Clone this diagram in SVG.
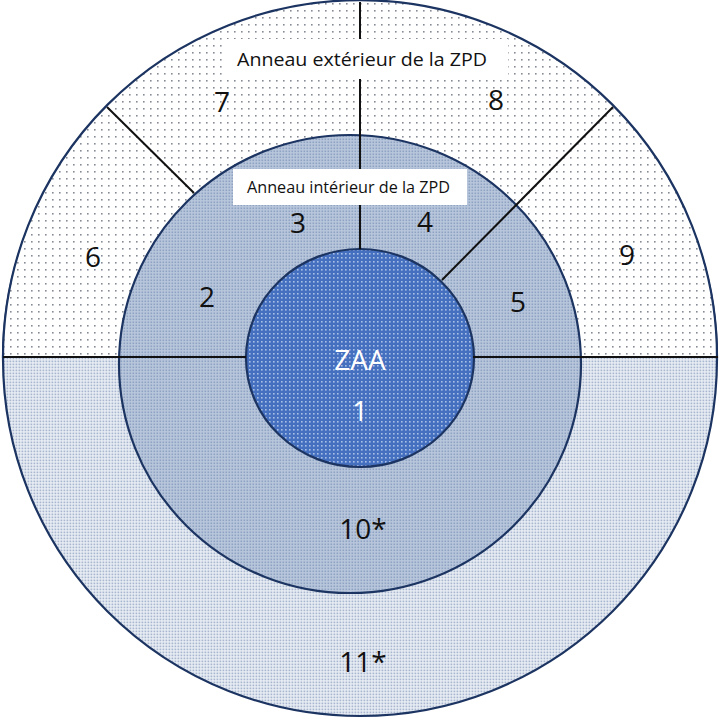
<svg xmlns="http://www.w3.org/2000/svg" width="721" height="721" viewBox="0 0 721 721">
<style>
.ring{stroke:#1c3461;stroke-width:2.2}
.div{stroke:#111;stroke-width:2;fill:none}
.num{font-family:"Open Sans","Liberation Sans",Arial,sans-serif;font-size:28px;fill:#111;text-anchor:middle}
.wnum{font-family:"Open Sans","Liberation Sans",Arial,sans-serif;font-size:28px;fill:#fff;text-anchor:middle}
.lbl{font-family:"Open Sans","Liberation Sans",Arial,sans-serif;fill:#111}
</style>
<defs>
<pattern id="pSparse" width="7" height="7" patternUnits="userSpaceOnUse">
<rect width="7" height="7" fill="#ffffff"/>
<rect x="3" y="3" width="1.6" height="1.6" fill="#868c96"/>
</pattern>
<pattern id="pLight" width="3" height="3" patternUnits="userSpaceOnUse">
<rect width="3" height="3" fill="#eef2f7"/>
<rect x="0.5" y="0.5" width="1.8" height="1.8" fill="#a8b7cf"/>
</pattern>
<pattern id="pMid" width="3" height="3" patternUnits="userSpaceOnUse">
<rect width="3" height="3" fill="#b9c7dc"/>
<rect x="0.5" y="0.5" width="1.6" height="1.6" fill="#8ea2c2"/>
</pattern>
<pattern id="pCore" width="4" height="4" patternUnits="userSpaceOnUse">
<rect width="4" height="4" fill="#4570c0"/>
<rect x="1" y="1" width="1.6" height="1.6" fill="#a9bfe6"/>
</pattern>
</defs>
<rect width="721" height="721" fill="#ffffff"/>
<g id="outer-ring">
<circle class="ring" cx="360" cy="359" r="357" fill="url(#pLight)"/>
<path class="ring" d="M3,357 A357,357 0 0 1 717,357 Z" fill="url(#pSparse)"/>
</g>
<g id="inner-ring">
<ellipse class="ring" cx="350" cy="364" rx="231" ry="229" fill="url(#pMid)"/>
</g>
<g id="zaa">
<ellipse class="ring" cx="360" cy="358" rx="114" ry="109" fill="url(#pCore)"/>
</g>
<g id="connectors">
<line class="div" x1="360" y1="2" x2="360" y2="249"/>
<line class="div" x1="107" y1="107" x2="194" y2="193"/>
<line class="div" x1="613" y1="107" x2="442" y2="280"/>
<line class="div" x1="3" y1="357" x2="246" y2="357"/>
<line class="div" x1="473" y1="357" x2="718" y2="357"/>
</g>
<g id="label-outer">
<rect x="224" y="39" width="284" height="40" fill="#ffffff"/>
<text class="lbl" x="237" y="66" font-size="18" textLength="250" lengthAdjust="spacingAndGlyphs">Anneau extérieur de la ZPD</text>
</g>
<g id="label-inner">
<rect x="233" y="169" width="234" height="36" fill="#ffffff"/>
<text class="lbl" x="247" y="193" font-size="15.5" textLength="203" lengthAdjust="spacingAndGlyphs">Anneau intérieur de la ZPD</text>
</g>
<g id="seg-numbers">
<text class="num" x="222" y="112">7</text>
<text class="num" x="496" y="110">8</text>
<text class="num" x="93" y="267">6</text>
<text class="num" x="627" y="265">9</text>
<text class="num" x="298" y="233">3</text>
<text class="num" x="425" y="232">4</text>
<text class="num" x="207" y="307">2</text>
<text class="num" x="518" y="312">5</text>
<text class="num" x="363" y="539">10*</text>
<text class="num" x="363" y="672">11*</text>
<text class="wnum" x="360" y="370">ZAA</text>
<text class="wnum" x="360" y="421">1</text>
</g>
</svg>
